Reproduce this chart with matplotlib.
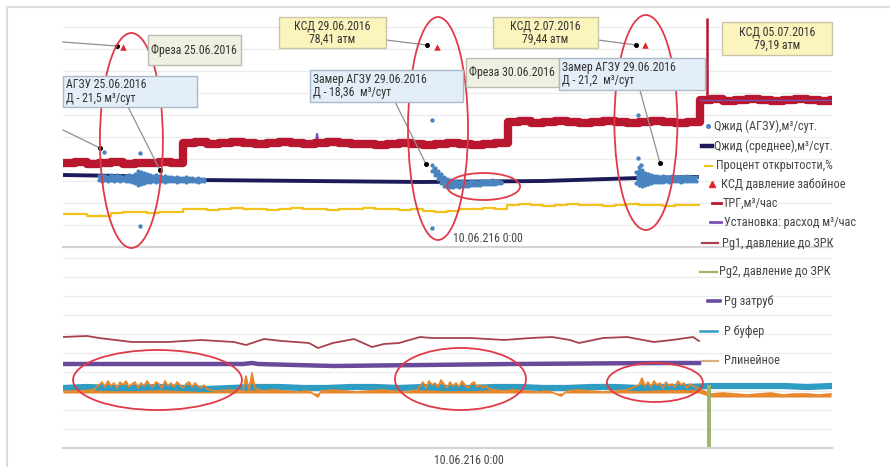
#!/usr/bin/env python3

import numpy as np
import matplotlib
matplotlib.use('Agg')
from matplotlib import pyplot as plt
from matplotlib import font_manager
from matplotlib.patches import Ellipse, Rectangle
from matplotlib.lines import Line2D

names = {f.name for f in font_manager.fontManager.ttflist}
narrow = [n for n in ['Liberation Sans Narrow', 'Roboto Condensed', 'Open Sans Condensed',
                      'DejaVu Sans Condensed', 'Noto Sans Condensed'] if n in names]
if narrow:
    FONT, FS = narrow[0], 8.5
else:
    FONT, FS = 'Liberation Sans', 7.6
plt.rcParams['font.family'] = [FONT, 'DejaVu Sans']

# ---- data (time in hours from start of window) ----
# ТРГ, м3/час
trg_t = [0, 4, 8, 12, 16, 20, 24, 28, 32, 36,
         40, 44, 48, 52, 56, 60, 64, 68, 72, 76, 80, 84, 88, 92, 96, 100, 104,
         108, 112, 116, 120, 124, 128, 132, 136, 140, 144,
         148.3, 152, 156, 160, 164, 168, 172, 176, 180, 184, 188, 192, 196, 200, 204, 208,
         212.3, 216, 220, 224, 228, 232, 236, 240, 244, 248, 252, 256.3]
trg_v = [84, 85, 83, 84, 85, 83, 84, 84, 85, 84,
         104, 105, 103, 104, 105, 104, 103, 104, 105, 104, 103, 104, 105, 104, 103, 103, 102,
         103, 104, 103, 102, 103, 104, 103, 102, 103, 104,
         125, 126, 124, 125, 126, 125, 124, 125, 126, 125, 124, 125, 126, 125, 124, 125,
         147, 148, 146, 147, 148, 147, 146, 147, 148, 147, 146, 147]
trg_spike_t = 214.7
trg_spike_v = 229

# Установка: расход
ust_t = [0, 40, 40, 84.3, 84.7, 85.1, 148.3, 148.3, 212.3, 212.3, 256.3]
ust_v = [84, 84, 104, 104, 113, 104, 104, 125, 125, 147, 147]

# Qжид (среднее)
qavg_t = [0, 20, 45, 120, 160, 192, 211.3]
qavg_v = [72, 71, 67, 65, 66, 69, 70]

# Qжид (АГЗУ) - measured points
agA_t = list(range(12, 48))
agA_hi = [71, 72, 71, 70, 72, 71, 72, 71, 70, 71, 72, 71, 73, 76, 75, 74, 73, 72,
          71, 72, 71, 70, 71, 70, 70, 69, 70, 69, 69, 70, 69, 69, 68, 69, 68, 68]
agA_lo = [67, 66, 67, 66, 67, 66, 67, 66, 67, 66, 66, 65, 64, 62, 63, 64, 65, 65,
          66, 65, 66, 66, 65, 66, 66, 66, 65, 66, 66, 65, 66, 66, 66, 65, 66, 66]
agB_t = list(range(123, 147))
agB_hi = [82, 79, 76, 73, 70, 68, 67, 66, 66, 65, 66, 65, 65, 66, 66, 65, 66, 66, 66, 66, 67, 66, 66, 65]
agB_lo = [76, 72, 68, 64, 61, 60, 60, 60, 61, 60, 61, 61, 61, 62, 62, 62, 62, 63, 63, 63, 63, 63, 64, 64]
agC_t = list(range(191, 212))
agC_hi = [75, 80, 77, 74, 73, 72, 71, 71, 70, 71, 70, 70, 71, 70, 70, 70, 70, 71, 70, 70, 70]
agC_lo = [64, 62, 61, 62, 63, 64, 65, 65, 65, 65, 66, 65, 66, 66, 66, 65, 66, 66, 66, 66, 66]
ag_out_t = [13.7, 25.7, 25.7, 123, 123, 191.7, 191.7, 192.7]
ag_out_v = [95, 94, 21, 127, 19, 132, 89, 82]

# Процент открытости
yel_t = list(range(0, 213, 4))
yel_v = [33, 33, 31, 31, 34, 35, 35, 34, 35, 35,
         38, 38, 37, 38, 39, 38, 38, 37, 38, 39, 38, 38, 37, 38, 38, 39, 38, 38, 37, 38,
         36, 35, 36, 38, 38, 39, 38,
         42, 43, 42, 41, 42, 43, 42, 42, 41, 42, 43, 42, 42, 41, 42, 42, 42]

# КСД давление забойное
ksd_t = [20, 124.7, 194]
ksd_v = [200, 200, 202]

# bottom panel
pg1_t = [0, 8, 12, 23, 35, 46, 57, 61, 67, 73, 82, 85, 90, 97, 103, 107, 112, 119, 123, 128,
         136, 147, 156, 163, 169, 172, 180, 188, 197, 203, 210, 212]
pg1_v = [111, 112, 110, 106, 106, 108, 106, 103, 109, 107, 105, 100, 105, 109, 101, 104, 105, 111,
         110, 110, 110, 108, 110, 111, 108, 105, 110, 111, 106, 108, 111, 107]

pgz_t = [0, 40, 60, 63, 65, 90, 120, 150, 200, 212]
pgz_v = [84, 84, 84, 85, 84, 82, 83, 84, 85, 85]

pbuf_t = list(range(0, 257, 8))
pbuf_v = [60, 61, 60, 60, 61, 60, 59, 60, 61, 61, 60, 60, 61, 61, 60, 61, 60,
          60, 61, 61, 60, 60, 61, 61, 60, 61, 61, 62, 62, 62, 62, 61, 62]

plin_t = ([0, 5, 10] + list(range(12, 49)) + [50, 55, 60, 61, 62, 63, 64]
          + [66, 70, 74, 78, 82, 85, 86, 90, 94, 98, 102, 106, 110, 114, 118]
          + list(range(119, 143))
          + [146, 150, 154, 158, 162, 166, 168, 172, 176, 180, 184, 188]
          + list(range(192, 213))
          + [216, 220, 224, 228, 232, 236, 240, 244, 248, 252, 256])
plin_v = ([57, 57, 58]
          + [63, 66, 61, 67, 62, 65, 60, 66, 63, 67, 61, 64, 66, 60, 65, 62, 67, 63, 61, 66, 64,
             60, 67, 62, 65, 61, 66, 63, 60, 64, 66, 61, 65, 62, 60, 63, 59]
          + [57, 58, 57, 72, 58, 75, 60]
          + [57, 58, 57, 56, 57, 51, 57, 58, 57, 56, 57, 58, 57, 56, 58]
          + [62, 66, 60, 67, 63, 65, 61, 68, 64, 60, 66, 62, 65, 61, 67, 63, 60, 64, 66, 61, 63, 60, 62, 59]
          + [57, 58, 57, 56, 57, 52, 57, 58, 57, 56, 57, 58]
          + [63, 70, 62, 66, 61, 67, 63, 65, 60, 66, 62, 64, 61, 67, 63, 65, 60, 64, 62, 61, 59]
          + [54, 55, 54, 53, 54, 55, 53, 54, 54, 53, 54])
plin_floor = [55 if t < 213 else 51 for t in plin_t]

pg2_t = [215.3, 215.3]
pg2_v = [63, 1]

# callouts: anchor (t, v) on top panel, leader start (t, v)
callouts = [((18, 201), (0, 205)),
            ((12.3, 99), (0, 117)),
            ((32.3, 77), (21.7, 140)),
            ((121.3, 202), (107.7, 207)),
            ((121, 83), (110.7, 145)),
            ((191, 202), (178.3, 207)),
            ((199, 84), (192.3, 157))]

# text boxes: (text, x0, y0, x1, y1 in px, style, align)
boxes = [('Фреза 25.06.2016', 148, 35, 241, 65, 'g', 'l'),
         ('АГЗУ 25.06.2016\nД - 21,5 м³/сут', 63, 76, 197, 107, 'b', 'l'),
         ('КСД 29.06.2016\n78,41 атм', 279, 17, 386, 48, 'y', 'c'),
         ('Замер АГЗУ 29.06.2016\nД - 18,36  м³/сут', 310, 70, 463, 102, 'b', 'l'),
         ('Фреза 30.06.2016', 466, 58, 559, 87, 'g', 'l'),
         ('КСД 2.07.2016\n79,44 атм', 493, 17, 598, 48, 'y', 'c'),
         ('Замер АГЗУ 29.06.2016\nД - 21,2  м³/сут', 559, 58, 705, 90, 'b', 'l'),
         ('КСД 05.07.2016\n79,19 атм', 722, 22, 832, 55, 'y', 'c')]

top_ellipses = [(22.8, 106.5, 21, 215), (125, 118.5, 20, 223),
                (140.2, 60.5, 24.3, 27), (194.3, 124.5, 21, 215)]
bot_ellipses = [(31.5, 68, 56.3, 60), (132.5, 69, 43.7, 62), (197.3, 65.5, 32, 39)]

legend_labels = ['Qжид (АГЗУ),м³/сут.', 'Qжид (среднее),м³/сут.', 'Процент открытости,%',
                 'КСД давление забойное', 'ТРГ,м³/час', 'Установка: расход м³/час',
                 'Pg1, давление до ЗРК', 'Pg2, давление до ЗРК', 'Pg затруб', 'P буфер',
                 'Pлинейное']

C_TRG = '#b8172f'
C_UST = '#7c4fb5'
C_NAVY = '#1d1a5a'
C_AG = '#4a84c0'
C_YEL = '#f2c31a'
C_KSD = '#e3262a'
C_PG1 = '#a5424c'
C_PG2 = '#9db66a'
C_PGZ = '#6a4b9b'
C_BUF = '#2f9cc1'
C_LIN = '#e7862b'
C_ELL = '#e03a48'
GRID = '#ececec'

W, H = 890, 467


def fx(x):
    return x / W


def fy(y):
    return 1 - y / H


def style_axes(ax, ymax, step):
    ax.set_xlim(0, 769 / 3)
    ax.set_ylim(0, ymax)
    ax.set_yticks(np.arange(step, ymax, step))
    ax.grid(axis='y', color=GRID, lw=0.9)
    ax.set_axisbelow(True)
    for s in ['top', 'left', 'right']:
        ax.spines[s].set_visible(False)
    ax.spines['bottom'].set_color('#d3d3d3')
    ax.spines['bottom'].set_linewidth(1.6)
    ax.tick_params(length=0, labelleft=False, labelbottom=False)
    ax.set_xticks([])
    ax.patch.set_alpha(0)


def main():
    fig = plt.figure(figsize=(8.9, 4.67), dpi=100)
    fig.add_artist(Rectangle((fx(7), -0.1), 1.2, fy(7) + 0.1, transform=fig.transFigure,
                             fill=False, ec='#dcdcdc', lw=1.5))

    ax1 = fig.add_axes([fx(63), fy(247), 769 / W, 232 / H])
    ax2 = fig.add_axes([fx(63), fy(448), 769 / W, 201 / H])
    style_axes(ax1, 232, 22)
    style_axes(ax2, 201, 19)

    # top panel
    ax1.plot(ust_t, ust_v, color=C_UST, lw=1.6, zorder=2)
    ax1.plot(trg_t, trg_v, color=C_TRG, lw=6, drawstyle='steps-post', zorder=3)
    ax1.plot(ust_t[-2:], ust_v[-2:], color=C_UST, lw=1.0, zorder=3.5)
    ax1.vlines(trg_spike_t, trg_v[-1], trg_spike_v, color=C_TRG, lw=1.8, zorder=3)
    ax1.plot(yel_t, yel_v, color=C_YEL, lw=1.6, drawstyle='steps-post', zorder=3)
    ax1.plot(qavg_t, qavg_v, color=C_NAVY, lw=2.8, zorder=3)
    for tt, hi, lo in [(agA_t, agA_hi, agA_lo), (agB_t, agB_hi, agB_lo), (agC_t, agC_hi, agC_lo)]:
        ax1.scatter(tt + tt, hi + lo, s=9, color=C_AG, lw=0, zorder=4)
        ax1.fill_between(tt, lo, hi, color=C_AG, lw=0, zorder=4)
    ax1.scatter(ag_out_t, ag_out_v, s=10, color=C_AG, lw=0, zorder=4)
    ax1.scatter(ksd_t, ksd_v, s=22, marker='^', color=C_KSD, lw=0, zorder=5)

    for (at, av), (st, sv) in callouts:
        ax1.plot([st, at], [sv, av], color='#8f8f8f', lw=0.9, zorder=6, clip_on=False)
        ax1.plot(at, av, 'o', color='black', ms=2.6, zorder=7)

    for cx, cy, w, h in top_ellipses:
        ax1.add_patch(Ellipse((cx, cy), w, h, fill=False, ec=C_ELL, lw=1.3,
                              zorder=8, clip_on=False))
    ax1.text((488 - 63) / 3, 9, '10.06.216 0:00', ha='center', va='center',
             fontsize=FS, color='#444444')

    # bottom panel
    ax2.plot(pg1_t, pg1_v, color=C_PG1, lw=1.3)
    ax2.plot(pgz_t, pgz_v, color=C_PGZ, lw=3.2)
    ax2.plot(pbuf_t, pbuf_v, color=C_BUF, lw=4.5)
    ax2.fill_between(plin_t, plin_floor, plin_v, color=C_LIN, lw=0)
    ax2.plot(plin_t, plin_v, color=C_LIN, lw=1.2)
    ax2.plot(pg2_t, pg2_v, color=C_PG2, lw=2.8, solid_capstyle='butt')
    for cx, cy, w, h in bot_ellipses:
        ax2.add_patch(Ellipse((cx, cy), w, h, fill=False, ec=C_ELL, lw=1.3,
                              zorder=8, clip_on=False))
    ax2.set_xticks([(469 - 63) / 3])
    ax2.set_xticklabels(['10.06.216 0:00'])
    ax2.tick_params(labelbottom=True, labelsize=FS, labelcolor='#444444', pad=4)

    # text boxes
    fills = {'g': ('#eef1e2', '#b9beb0'), 'b': ('#e4eef8', '#a9b9c9'), 'y': ('#fbf4bd', '#c9c6a6')}
    for txt, x0, y0, x1, y1, st, al in boxes:
        fc, ec = fills[st]
        fig.add_artist(Rectangle((fx(x0), fy(y1)), (x1 - x0) / W, (y1 - y0) / H,
                                 transform=fig.transFigure, fc=fc, ec=ec, lw=1.0, zorder=9))
        if al == 'c':
            fig.text(fx((x0 + x1) / 2), fy((y0 + y1) / 2), txt, ha='center', va='center',
                     fontsize=FS, color='#333333', linespacing=1.05, zorder=10)
        else:
            fig.text(fx(x0 + 3), fy((y0 + y1) / 2), txt, ha='left', va='center',
                     fontsize=FS, color='#333333', linespacing=1.05, zorder=10)

    # legend
    leg = [('dot', C_AG, 126, 706, 710, 713),
           ('line', C_NAVY, 146, 702, 712, 713),
           ('line', C_YEL, 166, 705, 712, 715),
           ('tri', C_KSD, 184, 710, 714, 720),
           ('line', C_TRG, 203, 712, 721, 722),
           ('line', C_UST, 222, 710, 721, 723),
           ('line', C_PG1, 243, 702, 718, 721),
           ('line', C_PG2, 272, 700, 717, 718),
           ('line', C_PGZ, 301, 708, 720, 723),
           ('line', C_BUF, 331, 700, 717, 723),
           ('line', '#d9ad7c', 361, 702, 718, 723)]
    lws = [0, 3.2, 1.5, 0, 2.0, 2.0, 1.6, 1.6, 2.6, 1.8, 1.6]
    for (kind, col, y, x0, x1, tx), lw, lab in zip(leg, lws, legend_labels):
        if kind == 'dot':
            fig.add_artist(Line2D([fx((x0 + x1) / 2)], [fy(y)], marker='o', ms=2.6, color=col, lw=0))
        elif kind == 'tri':
            fig.add_artist(Line2D([fx((x0 + x1) / 2)], [fy(y)], marker='^', ms=4, color=col, lw=0))
        else:
            fig.add_artist(Line2D([fx(x0), fx(x1)], [fy(y), fy(y)], color=col, lw=lw))
        fig.text(fx(tx + 1), fy(y), lab, ha='left', va='center', fontsize=FS + 0.3, color='#454545')

    plt.savefig('out.png', dpi=100)
    plt.close(fig)


if __name__ == '__main__':
    main()
